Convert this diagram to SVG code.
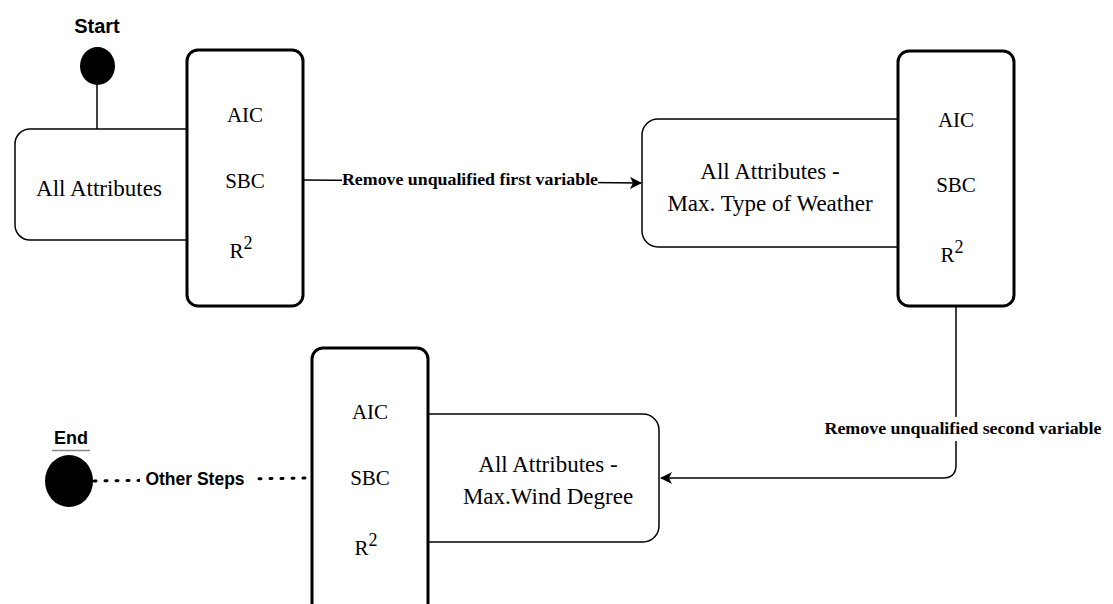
<svg xmlns="http://www.w3.org/2000/svg" width="1113" height="604" viewBox="0 0 1113 604">
<defs>
<style>
.box{fill:#fff;stroke:#000;stroke-width:1.5}
.tall{fill:#fff;stroke:#000;stroke-width:3}
.t{font-family:"Liberation Serif",serif;font-size:21px;fill:#000;text-anchor:middle}
.d{font-family:"Liberation Serif",serif;font-size:23px;fill:#000;text-anchor:middle}
.lbl{font-family:"Liberation Serif",serif;font-size:16px;font-weight:bold;fill:#000;text-anchor:middle}
.sans{font-family:"Liberation Sans",Arial,sans-serif;font-weight:bold;fill:#000;text-anchor:middle}
.ln{fill:none;stroke:#000;stroke-width:1.5}
</style>
<marker id="arr" viewBox="0 0 12 12" refX="11" refY="6" markerWidth="12" markerHeight="12" markerUnits="userSpaceOnUse" orient="auto">
<path d="M0,0 L12,6 L0,12 L3,6 Z" fill="#000"/>
</marker>
</defs>
<rect width="1113" height="604" fill="#fff"/>

<g id="connectors">
<line class="ln" x1="97" y1="84" x2="97" y2="129"/>
<line class="ln" x1="304" y1="180" x2="641" y2="183" marker-end="url(#arr)"/>
<path class="ln" d="M956,307 L956,465 Q956,478 943,478 L661,478" marker-end="url(#arr)"/>
<line x1="94" y1="481" x2="312" y2="478" stroke="#000" stroke-width="3" stroke-dasharray="2,9" stroke-linecap="round"/>
</g>

<g id="start">
<text class="sans" x="97" y="33" font-size="20">Start</text>
<ellipse cx="97.5" cy="66" rx="17.5" ry="19" fill="#000"/>
</g>

<g id="node1">
<rect class="box" x="15" y="129" width="190" height="111" rx="15"/>
<text class="d" x="99" y="196">All Attributes</text>
</g>
<g id="metrics1">
<rect class="tall" x="187" y="50" width="116" height="256" rx="11"/>
<text class="t" x="245" y="122">AIC</text>
<text class="t" x="245" y="188">SBC</text>
<text class="t" x="241" y="258">R<tspan dy="-9" font-size="18">2</tspan></text>
</g>

<g id="label1">
<rect x="342" y="170" width="256" height="20" fill="#fff"/>
<text class="lbl" x="470" y="185" textLength="256" lengthAdjust="spacingAndGlyphs">Remove unqualified first variable</text>
</g>

<g id="node2">
<rect class="box" x="642" y="119" width="275" height="128" rx="16"/>
<text class="d" x="770" y="179">All Attributes -</text>
<text class="d" x="770" y="211">Max. Type of Weather</text>
</g>
<g id="metrics2">
<rect class="tall" x="898" y="51" width="116" height="255" rx="11"/>
<text class="t" x="956" y="127">AIC</text>
<text class="t" x="956" y="192">SBC</text>
<text class="t" x="952" y="262">R<tspan dy="-9" font-size="18">2</tspan></text>
</g>

<g id="label2">
<rect x="824" y="417" width="280" height="24" fill="#fff"/>
<text class="lbl" x="963" y="434" textLength="277" lengthAdjust="spacingAndGlyphs">Remove unqualified second variable</text>
</g>

<g id="node3">
<rect class="box" x="410" y="414" width="249" height="128" rx="16"/>
<text class="d" x="548" y="472">All Attributes -</text>
<text class="d" x="548" y="504">Max.Wind Degree</text>
</g>
<g id="metrics3">
<rect class="tall" x="312" y="348" width="116" height="268" rx="11"/>
<text class="t" x="370" y="419">AIC</text>
<text class="t" x="370" y="485">SBC</text>
<text class="t" x="366" y="555">R<tspan dy="-9" font-size="18">2</tspan></text>
</g>

<g id="label3">
<rect x="140" y="466" width="112" height="24" fill="#fff"/>
<text class="sans" x="195" y="485" font-size="17.5">Other Steps</text>
</g>

<g id="end">
<rect x="52" y="419" width="38" height="32" fill="#fff"/>
<line x1="52" y1="450.5" x2="90" y2="450.5" stroke="#888" stroke-width="1.5"/>
<text class="sans" x="71" y="444" font-size="18">End</text>
<ellipse cx="69" cy="481" rx="24" ry="26" fill="#000"/>
</g>
</svg>
